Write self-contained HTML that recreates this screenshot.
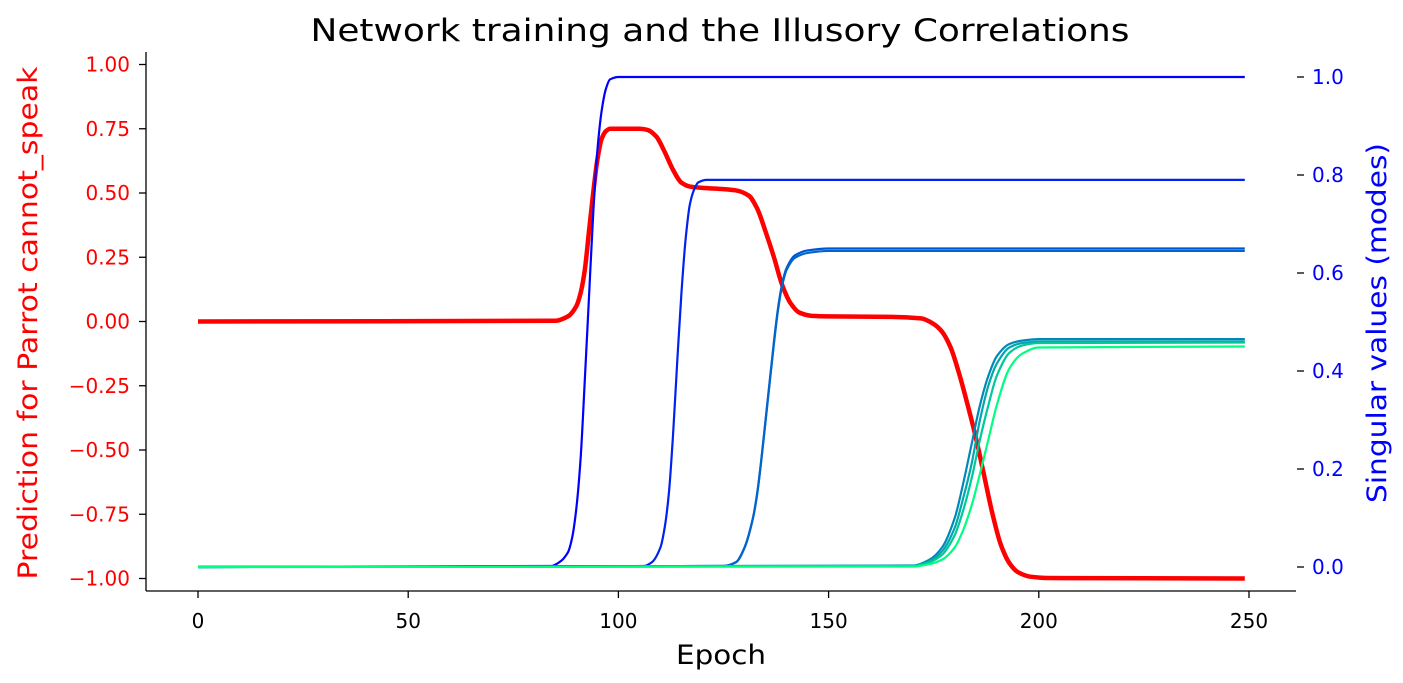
<!DOCTYPE html>
<html><head><meta charset="utf-8"><style>
html,body{margin:0;padding:0;background:#fff;}
svg{display:block;font-family:"DejaVu Sans","Liberation Sans",sans-serif;}
</style></head><body>
<svg id="chart" width="1403" height="683" viewBox="0 0 1403 683" xmlns="http://www.w3.org/2000/svg">
<text x="720" y="41" font-size="31" text-anchor="middle" fill="#000" textLength="819" lengthAdjust="spacingAndGlyphs">Network training and the Illusory Correlations</text>
<g id="axes"></g>
<g id="lines"></g>
<text x="721" y="664" font-size="27" text-anchor="middle" fill="#000" textLength="90" lengthAdjust="spacingAndGlyphs">Epoch</text>
<text transform="translate(37,323) rotate(-90)" font-size="27" text-anchor="middle" fill="#ff0000" textLength="513" lengthAdjust="spacingAndGlyphs">Prediction for Parrot cannot_speak</text>
<text transform="translate(1386,323) rotate(-90)" font-size="27" text-anchor="middle" fill="#0000ff" textLength="360" lengthAdjust="spacingAndGlyphs">Singular values (modes)</text>
</svg>
<script>
const xTicks=[0,50,100,150,200,250];
const leftTicks=[1.00,0.75,0.50,0.25,0.00,-0.25,-0.50,-0.75,-1.00];
const rightTicks=[0.0,0.2,0.4,0.6,0.8,1.0];

const redEpochs=[0,85,88,90,91,92,93,94,95,96,97,98,105,107,109,111,113,115,117,120,125,128,131,133,135,137,139,141,143,146,150,165,172,175,177,179,181,183,185,187,189,191,193,195,198,202,249];
const redValues=[0,0.003,0.02,0.06,0.11,0.2,0.35,0.5,0.63,0.71,0.74,0.75,0.75,0.745,0.72,0.66,0.59,0.54,0.525,0.52,0.515,0.51,0.49,0.44,0.35,0.25,0.14,0.07,0.035,0.022,0.02,0.018,0.012,-0.01,-0.04,-0.1,-0.2,-0.32,-0.45,-0.6,-0.75,-0.87,-0.94,-0.975,-0.993,-0.998,-1.0];

const mode1Epochs=[0,84,86,88,89,90,91,92,93,94,95,96,97,98,100,249];
const mode1Values=[0,0.002,0.01,0.03,0.06,0.12,0.22,0.38,0.55,0.72,0.85,0.93,0.975,0.995,1.0,1.0];
const mode2Epochs=[0,106,108,110,111,112,113,114,115,116,117,118,119,121,249];
const mode2Values=[0,0.002,0.01,0.04,0.08,0.15,0.27,0.42,0.56,0.67,0.74,0.77,0.785,0.79,0.79];
const mode3Epochs=[0,125,128,130,132,133,134,135,136,137,138,139,140,142,145,150,249];
const mode3aValues=[0,0.002,0.01,0.04,0.1,0.15,0.22,0.3,0.38,0.46,0.53,0.58,0.61,0.636,0.646,0.65,0.65];
const mode3bValues=[0,0.002,0.01,0.039,0.099,0.148,0.218,0.297,0.377,0.456,0.526,0.576,0.606,0.631,0.641,0.645,0.645];
const lateEpochs=[0,170,174,177,180,182,184,186,188,190,193,196,200,249];
const mode4Values=[0,0.003,0.015,0.04,0.1,0.17,0.25,0.33,0.39,0.43,0.455,0.462,0.465,0.465];
const mode5Values=[0,0.002,0.012,0.032,0.08,0.14,0.21,0.30,0.37,0.415,0.448,0.457,0.46,0.46];
const mode6Values=[0,0.002,0.01,0.025,0.065,0.115,0.18,0.26,0.33,0.39,0.437,0.452,0.457,0.458];
const mode7Values=[0,0.001,0.006,0.015,0.04,0.075,0.125,0.19,0.26,0.33,0.405,0.435,0.448,0.45];

const NS="http://www.w3.org/2000/svg";
const X=e=>198+e*4.204;
const YL=v=>321.5-v*257;
const YR=v=>567-v*490;

function mk(tag,attrs,parent){const el=document.createElementNS(NS,tag);for(const k in attrs)el.setAttribute(k,attrs[k]);parent.appendChild(el);return el;}

function monoPath(xs,ys){
  const n=xs.length,d=[],m=[];
  for(let i=0;i<n-1;i++)d.push((ys[i+1]-ys[i])/(xs[i+1]-xs[i]));
  for(let i=0;i<n;i++){
    if(i===0)m.push(d[0]);else if(i===n-1)m.push(d[n-2]);
    else if(d[i-1]*d[i]<=0)m.push(0);
    else m.push(2/(1/d[i-1]+1/d[i]));
  }
  let p="M"+xs[0].toFixed(2)+","+ys[0].toFixed(2);
  for(let i=0;i<n-1;i++){
    const h=xs[i+1]-xs[i];
    p+=" C"+(xs[i]+h/3).toFixed(2)+","+(ys[i]+m[i]*h/3).toFixed(2)+" "+(xs[i+1]-h/3).toFixed(2)+","+(ys[i+1]-m[i+1]*h/3).toFixed(2)+" "+xs[i+1].toFixed(2)+","+ys[i+1].toFixed(2);
  }
  return p;
}

const axes=document.getElementById('axes');
const lines=document.getElementById('lines');
const lsp=mk('line',{x1:146,y1:52,x2:146,y2:591,stroke:'#000','stroke-width':1.3},axes);


const bsp=mk('line',{x1:146,y1:591,x2:1296,y2:591,stroke:'#000','stroke-width':1.3},axes);



xTicks.forEach(t=>{
  const tk=mk('line',{x1:X(t),y1:591,x2:X(t),y2:598,stroke:'#000','stroke-width':1.3},axes);
  
  
  const tl=mk('text',{x:X(t),y:628,'font-size':20,'text-anchor':'middle',fill:'#000'},axes);
  
  
  tl.textContent=String(t);
});
leftTicks.forEach(t=>{
  const tk=mk('line',{x1:139,y1:YL(t),x2:146,y2:YL(t),stroke:'#000','stroke-width':1.3},axes);
  
  
  const tl=mk('text',{x:130,y:YL(t)+7,'font-size':20,'text-anchor':'end',fill:'#ff0000'},axes);
  
  
  tl.textContent=(t<0?'\u2212':'')+Math.abs(t).toFixed(2);
});
rightTicks.forEach(t=>{
  const tk=mk('line',{x1:1297,y1:YR(t),x2:1304,y2:YR(t),stroke:'#000','stroke-width':1.3},axes);
  
  
  const tl=mk('text',{x:1312,y:YR(t)+7,'font-size':20,'text-anchor':'start',fill:'#0000ff'},axes);
  
  
  tl.textContent=t.toFixed(1);
});

const red=mk('path',{d:monoPath(redEpochs.map(X),redValues.map(YL)),fill:'none',stroke:'#ff0000','stroke-width':4.5},lines);



const modes=[
  [mode1Epochs,mode1Values,'#0000ff','mode-1-line'],
  [mode2Epochs,mode2Values,'#0022ee','mode-2-line'],
  [mode3Epochs,mode3aValues,'#0055d5','mode-3a-line'],
  [mode3Epochs,mode3bValues,'#0066cc','mode-3b-line'],
  [lateEpochs,mode4Values,'#0088bb','mode-4-line'],
  [lateEpochs,mode5Values,'#00a8ab','mode-5-line'],
  [lateEpochs,mode6Values,'#00c89a','mode-6-line'],
  [lateEpochs,mode7Values,'#00ff80','mode-7-line']
];
modes.forEach(([es,vs,c,nm])=>{
  const p=mk('path',{d:monoPath(es.map(X),vs.map(YR)),fill:'none',stroke:c,'stroke-width':2.2},lines);
  
  
});
</script>
</body></html>
